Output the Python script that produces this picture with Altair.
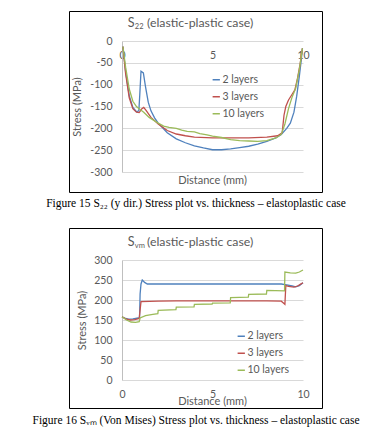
import altair as alt
import pandas as pd

SERIES = ["2 layers", "3 layers", "10 layers"]
COLORS = ["#4F81BD", "#C0504D", "#9BBB59"]
FONT = "Lato"
GRAY = "#595959"

# ---- Figure 15: S22 stress (MPa) vs distance (mm)
s22_2_d = [0.05, 0.2, 0.4, 0.6, 0.8, 0.93, 0.98, 1.05, 1.18, 1.3, 1.45, 1.6, 1.8, 2.0, 2.5, 3.0, 3.5, 4.0, 4.5,
           5.0, 5.5, 6.0, 6.5, 7.0, 7.5, 8.0, 8.5, 8.8, 9.1, 9.3, 9.5, 9.65, 9.8, 9.9, 9.97]
s22_2_v = [-13, -70, -125, -152, -162, -160, -125, -69, -73, -105, -140, -160, -176, -188, -210, -224, -233, -240, -245,
           -249, -249, -247, -244, -241, -236, -230, -222, -214, -200, -188, -163, -127, -80, -45, -17]

s22_3_d = [0.05, 0.2, 0.4, 0.6, 0.8, 0.95, 1.1, 1.2, 1.35, 1.6, 2.0, 2.5, 3.0, 3.5, 4.0, 5.0, 6.0, 7.0, 8.0, 8.6,
           8.85, 8.95, 9.05, 9.2, 9.4, 9.55, 9.7, 9.85, 9.97]
s22_3_v = [-13, -75, -130, -155, -163, -164, -155, -152, -160, -175, -190, -205, -213, -217, -220, -222, -222, -222,
           -220, -217, -210, -170, -150, -135, -122, -112, -85, -50, -17]

s22_10_d = [0.05, 0.2, 0.4, 0.6, 0.8, 1.0, 1.2, 1.5, 2.0, 2.3, 2.6, 3.0, 3.3, 3.6, 4.0, 4.3, 4.7, 5.0, 5.5, 6.0,
            6.5, 7.0, 7.5, 8.0, 8.5, 8.8, 9.0, 9.2, 9.4, 9.6, 9.8, 9.97]
s22_10_v = [-13, -60, -110, -138, -150, -157, -163, -175, -188, -195, -198, -200, -204, -207, -208, -212, -215, -218,
            -221, -226, -228, -229, -230, -228, -222, -214, -190, -155, -128, -108, -65, -17]

# ---- Figure 16: Von Mises stress (MPa) vs distance (mm)
svm_2_d = [0, 0.15, 0.35, 0.6, 0.9, 0.97, 1.0, 1.05, 1.12, 1.25, 1.4, 2, 3, 4, 5, 6, 7, 8, 8.8, 9.1, 9.4, 9.6,
           9.8, 10]
svm_2_v = [158, 155, 152, 153, 155, 156, 215, 240, 250, 244, 240, 240, 240, 240, 240, 240, 240, 240, 240, 238, 235,
           233, 236, 243]

svm_3_d = [0, 0.2, 0.45, 0.7, 0.95, 1.0, 1.05, 2, 3, 4, 5, 6, 7, 8, 8.8, 8.95, 9.0, 9.05, 9.2, 9.5, 9.7, 9.85, 10]
svm_3_v = [158, 153, 150, 151, 154, 175, 196, 197, 198, 198, 198, 198, 198, 198, 197, 191, 189, 236, 234, 232, 235,
           239, 243]

svm_10_d = [0, 0.25, 0.5, 0.75, 0.95, 1.0, 1.3, 1.7, 1.98, 2.0, 2.98, 3.0, 3.98, 4.0, 4.98, 5.0, 5.98, 6.0, 6.98,
            7.0, 7.98, 8.0, 8.98, 9.0, 9.3, 9.6, 9.8, 10]
svm_10_v = [158, 150, 145, 144, 146, 155, 161, 164, 166, 174, 176, 182, 183, 189, 190, 192, 193, 206, 207, 214, 215,
            224, 223, 270, 268, 267, 270, 275]

S22_TICKS = [0, -50, -100, -150, -200, -250, -300]
SVM_TICKS = [0, 50, 100, 150, 200, 250, 300]
X_TICKS = [0, 5, 10]


def make_df(ds_list, vs_list):
    rows = []
    i = 0
    for name, ds, vs in zip(SERIES, ds_list, vs_list):
        for d, v in zip(ds, vs):
            rows.append({"series": name, "d": d, "v": v, "i": i})
            i += 1
    return pd.DataFrame(rows)


ONE = pd.DataFrame({"k": [0]})


def text(t, x, y, size, align="center", font=FONT, color=GRAY, baseline="middle"):
    return alt.Chart(pd.DataFrame({"t": [t]})).mark_text(
        font=font, fontSize=size, color=color, align=align, baseline=baseline
    ).encode(x=alt.value(x), y=alt.value(y), text="t:N")


def panel(df, ydom, yticks, h, sub, caption, frame, bound, title_y, dist_y, cap_y,
          leg_x, leg_y, xoffset, ytitle_pad):
    bound_rect = alt.Chart(ONE).mark_rect(fill="white", opacity=0).encode(
        x=alt.value(bound[0]), x2=alt.value(bound[1]), y=alt.value(bound[2]), y2=alt.value(bound[3]))
    frame_rect = alt.Chart(ONE).mark_rect(filled=False, stroke="black", strokeWidth=1).encode(
        x=alt.value(frame[0]), x2=alt.value(frame[1]), y=alt.value(frame[2]), y2=alt.value(frame[3]))
    lines = alt.Chart(df).mark_line(strokeWidth=1.3).encode(
        x=alt.X("d:Q", scale=alt.Scale(domain=[0, 10], nice=False, zero=False),
                axis=alt.Axis(values=X_TICKS, title=None, grid=False, domain=False, ticks=False,
                              labelPadding=9, labelFlush=False, offset=xoffset, labelFont=FONT,
                              labelFontSize=10.5, labelColor=GRAY)),
        y=alt.Y("v:Q", scale=alt.Scale(domain=ydom, nice=False, zero=False),
                axis=alt.Axis(values=yticks, title="Stress (MPa)", grid=True, gridColor="#D9D9D9",
                              domain=True, domainColor="#BFBFBF", ticks=False, labelPadding=10,
                              labelExpr="toString(datum.value)", labelFont=FONT, labelFontSize=10.5,
                              labelColor=GRAY, titleFont=FONT, titleFontSize=11,
                              titleFontWeight="normal", titleColor=GRAY, titlePadding=ytitle_pad)),
        color=alt.Color("series:N", sort=SERIES,
                        scale=alt.Scale(domain=SERIES, range=COLORS),
                        legend=alt.Legend(orient="none", legendX=leg_x, legendY=leg_y, title=None,
                                          symbolType="stroke", symbolSize=53, symbolStrokeWidth=1.5,
                                          labelFont=FONT, labelFontSize=10.5, labelColor=GRAY,
                                          labelOffset=1, rowPadding=6, padding=0)),
        order=alt.Order("i:Q"),
    )
    layers = [
        bound_rect,
        lines,
        frame_rect,
        text("S", 12.5, title_y, 12.5, align="right"),
        text(sub, 12.8, title_y + 4, 7.5, align="left"),
        text("(elastic-plastic case)", 25, title_y, 12.3, align="left"),
        text("Distance (mm)", 90.5, dist_y, 11),
        text(caption, 74, cap_y, 11.5, font="Liberation Serif", color="black"),
    ]
    return alt.layer(*layers).properties(width=181, height=h)


df1 = make_df([s22_2_d, s22_3_d, s22_10_d], [s22_2_v, s22_3_v, s22_10_v])
df2 = make_df([svm_2_d, svm_3_d, svm_10_d], [svm_2_v, svm_3_v, svm_10_v])

p1 = panel(df1, [-300, 0], S22_TICKS, 131, "22",
           "Figure 15 S\u2082\u2082 (y dir.) Stress plot vs. thickness \u2013 elastoplastic case",
           frame=[-52.5, 200.5, -29.5, 151.5], bound=[-114, 262, -33, 172],
           title_y=-17.7, dist_y=140, cap_y=163, leg_x=89, leg_y=33.5, xoffset=-131, ytitle_pad=7)
p2 = panel(df2, [0, 300], SVM_TICKS, 120, "vm",
           "Figure 16 S\u1d65\u2098 (Von Mises) Stress plot vs. thickness \u2013 elastoplastic case",
           frame=[-52.5, 200.5, -31.5, 148.5], bound=[-114, 262, -47, 167],
           title_y=-18.3, dist_y=142, cap_y=160.5, leg_x=114, leg_y=71, xoffset=0, ytitle_pad=6)

chart = alt.vconcat(p1, p2, spacing=0).resolve_scale(
    x="independent", y="independent", color="independent"
).resolve_legend(color="independent").properties(padding=0).configure_view(stroke=None)

chart.save("out.html", embed_options={"renderer": "svg", "actions": False})
